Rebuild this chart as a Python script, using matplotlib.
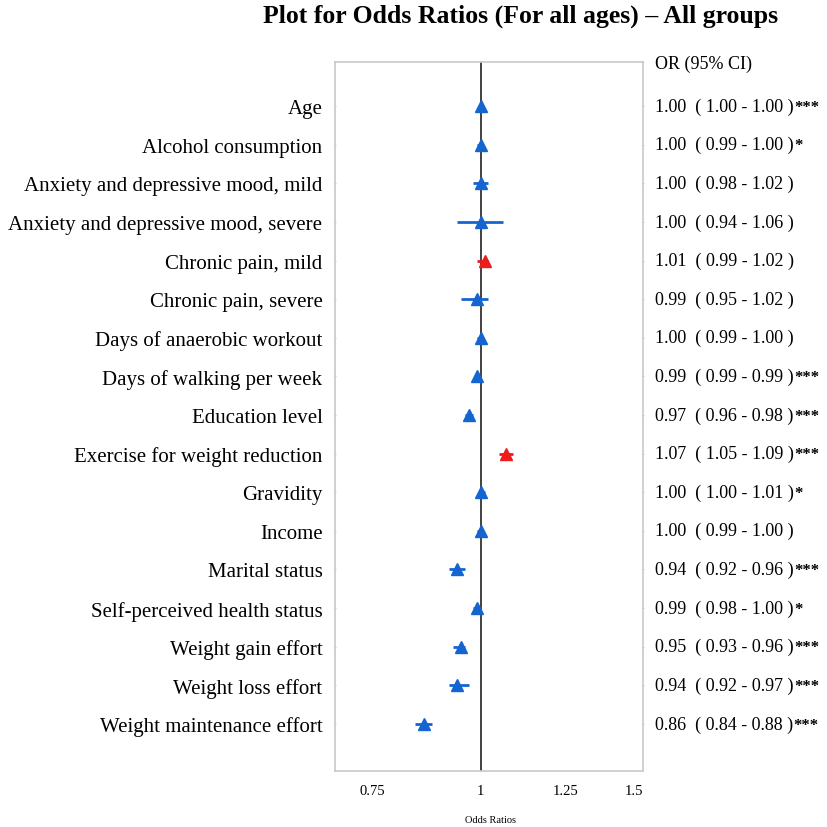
import matplotlib.pyplot as plt
import matplotlib.transforms as mtransforms
import numpy as np

labels = [
    "Age",
    "Alcohol consumption",
    "Anxiety and depressive mood, mild",
    "Anxiety and depressive mood, severe",
    "Chronic pain, mild",
    "Chronic pain, severe",
    "Days of anaerobic workout",
    "Days of walking per week",
    "Education level",
    "Exercise for weight reduction",
    "Gravidity",
    "Income",
    "Marital status",
    "Self-perceived health status",
    "Weight gain effort",
    "Weight loss effort",
    "Weight maintenance effort",
]
odds = [1.00, 1.00, 1.00, 1.00, 1.01, 0.99, 1.00, 0.99, 0.97, 1.07,
        1.00, 1.00, 0.94, 0.99, 0.95, 0.94, 0.86]
ci_low = [1.00, 0.99, 0.98, 0.94, 0.99, 0.95, 0.99, 0.99, 0.96, 1.05,
          1.00, 0.99, 0.92, 0.98, 0.93, 0.92, 0.84]
ci_high = [1.00, 1.00, 1.02, 1.06, 1.02, 1.02, 1.00, 0.99, 0.98, 1.09,
           1.01, 1.00, 0.96, 1.00, 0.96, 0.97, 0.88]
stars = ["***", "*", "", "", "", "", "", "***", "***", "***",
         "*", "", "***", "*", "***", "***", "***"]
x_ticks = [0.75, 1, 1.25, 1.5]
x_tick_labels = ["0.75", "1", "1.25", "1.5"]

BLUE = "#1565d0"
RED = "#ee1c1c"

plt.rcParams['font.family'] = ['Liberation Serif', 'DejaVu Serif']

fig = plt.figure(figsize=(8.27, 8.28), dpi=100)
ax = fig.add_axes([0.405, 0.0676, 0.3724, 0.8563])

ypos = np.arange(len(labels))
for i in ypos:
    col = RED if odds[i] > 1 else BLUE
    ax.plot([ci_low[i], ci_high[i]], [i, i], color=col, lw=2, solid_capstyle='butt', zorder=3)
    ax.plot(odds[i], i, marker='^', ms=8.5, color=col, mec=col, ls='none', zorder=4)

ax.axvline(1, color='#333333', lw=1.3, zorder=2)

ax.set_xscale('log')
ax.set_xlim(0.68, 1.535)
ax.set_ylim(len(labels) - 1 + 1.22, -1.14)
ax.set_xticks(x_ticks)
ax.set_xticklabels(x_tick_labels, fontsize=10.5)
ax.xaxis.set_minor_locator(plt.NullLocator())
ax.tick_params(axis='x', length=0, pad=9)
ax.set_yticks(ypos)
ax.set_yticklabels(labels, fontsize=15)
ax.tick_params(axis='y', length=2, color='#cccccc', direction='inout', pad=8,
               right=True)
for sp in ax.spines.values():
    sp.set_color('#c8c8c8')
    sp.set_linewidth(1.2)

fig.text(0.593, 0.0085, "Odds Ratios", fontsize=7.5, ha='center', va='center')

trans = mtransforms.blended_transform_factory(ax.transAxes, ax.transData)
ax.text(1.039, -1.1, "OR (95% CI)", transform=trans, fontsize=13,
        va='center', ha='left')
for i in ypos:
    txt = f"{odds[i]:.2f}  ( {ci_low[i]:.2f} - {ci_high[i]:.2f} )"
    t = ax.text(1.039, i, txt, transform=trans, fontsize=13,
                va='center', ha='left')
    if stars[i]:
        ax.annotate(stars[i], xy=(1, 1), xycoords=t, xytext=(0.5, -1),
                    textcoords='offset points', fontsize=12, fontweight='bold',
                    va='top', ha='left')

fig.suptitle("Plot for Odds Ratios (For all ages) \u2013 All groups",
             x=0.63, y=0.995, fontsize=18.5, fontweight='bold')

fig.savefig("out.png", dpi=100)
